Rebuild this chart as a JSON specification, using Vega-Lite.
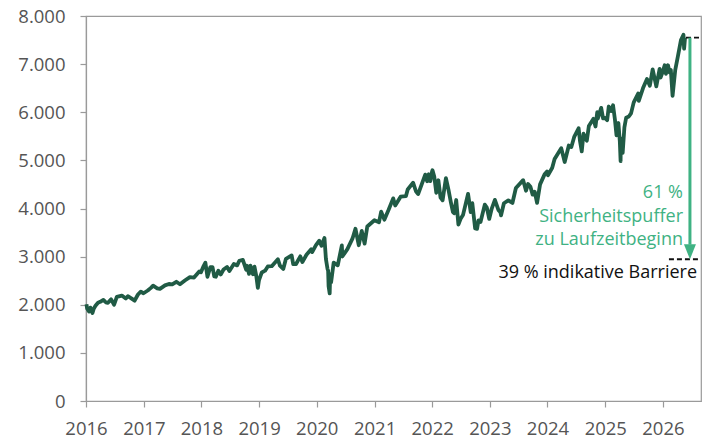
{
  "$schema": "https://vega.github.io/schema/vega-lite/v6.json",
  "width": 615,
  "height": 385,
  "autosize": {"type": "none"},
  "padding": {"left": 86, "top": 16, "right": 8, "bottom": 38},
  "background": "white",
  "config": {
    "view": {"stroke": "#9a9a9a", "strokeWidth": 1.2},
    "font": "Open Sans"
  },
  "datasets": {
    "spx": [
      {"date":"2016-01-04","value":2012},{"date":"2016-01-08","value":1922},{"date":"2016-01-20","value":1859},{"date":"2016-01-29","value":1940},{"date":"2016-02-11","value":1829},{"date":"2016-02-19","value":1917},{"date":"2016-03-01","value":1978},{"date":"2016-03-17","value":2040},{"date":"2016-03-31","value":2060},{"date":"2016-04-20","value":2102},{"date":"2016-05-05","value":2051},{"date":"2016-05-19","value":2040},{"date":"2016-06-08","value":2112},{"date":"2016-06-27","value":2000},{"date":"2016-07-14","value":2163},{"date":"2016-08-15","value":2190},{"date":"2016-09-09","value":2128},{"date":"2016-09-22","value":2177},{"date":"2016-10-14","value":2133},{"date":"2016-11-04","value":2085},{"date":"2016-11-25","value":2213},{"date":"2016-12-13","value":2272},{"date":"2016-12-30","value":2239},
      {"date":"2017-01-26","value":2296},{"date":"2017-02-15","value":2350},{"date":"2017-03-01","value":2396},{"date":"2017-03-27","value":2342},{"date":"2017-04-13","value":2329},{"date":"2017-05-15","value":2402},{"date":"2017-06-09","value":2431},{"date":"2017-06-30","value":2423},{"date":"2017-07-26","value":2477},{"date":"2017-08-18","value":2425},{"date":"2017-09-20","value":2508},{"date":"2017-10-20","value":2575},{"date":"2017-11-15","value":2565},{"date":"2017-12-18","value":2690},{"date":"2017-12-29","value":2674},
      {"date":"2018-01-12","value":2786},{"date":"2018-01-26","value":2873},{"date":"2018-02-08","value":2581},{"date":"2018-02-26","value":2780},{"date":"2018-03-12","value":2783},{"date":"2018-03-23","value":2588},{"date":"2018-04-02","value":2582},{"date":"2018-04-18","value":2708},{"date":"2018-05-03","value":2630},{"date":"2018-05-21","value":2733},{"date":"2018-06-12","value":2786},{"date":"2018-06-27","value":2700},{"date":"2018-07-25","value":2846},{"date":"2018-08-15","value":2818},{"date":"2018-08-29","value":2914},{"date":"2018-09-20","value":2931},{"date":"2018-10-11","value":2728},{"date":"2018-10-17","value":2810},{"date":"2018-10-29","value":2641},{"date":"2018-11-07","value":2813},{"date":"2018-11-23","value":2633},{"date":"2018-12-03","value":2790},{"date":"2018-12-14","value":2600},{"date":"2018-12-24","value":2351},{"date":"2018-12-31","value":2507},
      {"date":"2019-01-18","value":2671},{"date":"2019-02-08","value":2708},{"date":"2019-02-25","value":2796},{"date":"2019-03-22","value":2801},{"date":"2019-04-30","value":2946},{"date":"2019-05-13","value":2812},{"date":"2019-06-03","value":2744},{"date":"2019-06-20","value":2954},{"date":"2019-07-26","value":3026},{"date":"2019-08-05","value":2844},{"date":"2019-08-23","value":2847},{"date":"2019-09-19","value":3006},{"date":"2019-10-02","value":2887},{"date":"2019-10-28","value":3039},{"date":"2019-11-27","value":3153},{"date":"2019-12-03","value":3093},{"date":"2019-12-27","value":3240},
      {"date":"2020-01-17","value":3330},{"date":"2020-01-31","value":3226},{"date":"2020-02-19","value":3386},{"date":"2020-02-28","value":2954},{"date":"2020-03-09","value":2747},{"date":"2020-03-13","value":2711},{"date":"2020-03-16","value":2386},{"date":"2020-03-23","value":2237},{"date":"2020-03-26","value":2630},{"date":"2020-04-01","value":2470},{"date":"2020-04-17","value":2875},{"date":"2020-05-13","value":2820},{"date":"2020-06-08","value":3232},{"date":"2020-06-11","value":3002},{"date":"2020-07-13","value":3155},{"date":"2020-08-14","value":3373},{"date":"2020-09-02","value":3580},{"date":"2020-09-23","value":3237},{"date":"2020-10-12","value":3535},{"date":"2020-10-30","value":3270},{"date":"2020-11-16","value":3627},{"date":"2020-12-31","value":3756},
      {"date":"2021-01-29","value":3714},{"date":"2021-02-12","value":3934},{"date":"2021-03-04","value":3768},{"date":"2021-03-31","value":3973},{"date":"2021-04-29","value":4211},{"date":"2021-05-12","value":4063},{"date":"2021-06-15","value":4246},{"date":"2021-07-19","value":4258},{"date":"2021-07-30","value":4395},{"date":"2021-09-02","value":4537},{"date":"2021-09-20","value":4358},{"date":"2021-10-04","value":4300},{"date":"2021-11-18","value":4704},{"date":"2021-11-30","value":4567},{"date":"2021-12-10","value":4712},{"date":"2021-12-20","value":4568},{"date":"2021-12-31","value":4766},
      {"date":"2022-01-03","value":4796},{"date":"2022-01-14","value":4663},{"date":"2022-01-27","value":4326},{"date":"2022-02-09","value":4587},{"date":"2022-02-23","value":4225},{"date":"2022-03-08","value":4170},{"date":"2022-03-29","value":4632},{"date":"2022-04-14","value":4392},{"date":"2022-04-29","value":4132},{"date":"2022-05-12","value":3930},{"date":"2022-05-20","value":3901},{"date":"2022-06-02","value":4176},{"date":"2022-06-16","value":3667},{"date":"2022-06-30","value":3785},{"date":"2022-07-15","value":3863},{"date":"2022-08-16","value":4305},{"date":"2022-09-02","value":3924},{"date":"2022-09-12","value":4110},{"date":"2022-09-30","value":3586},{"date":"2022-10-12","value":3577},{"date":"2022-10-21","value":3752},{"date":"2022-11-03","value":3720},{"date":"2022-11-30","value":4080},{"date":"2022-12-13","value":4019},{"date":"2022-12-28","value":3783},
      {"date":"2023-01-13","value":3999},{"date":"2023-02-02","value":4180},{"date":"2023-02-24","value":3970},{"date":"2023-03-09","value":3919},{"date":"2023-03-13","value":3856},{"date":"2023-03-31","value":4109},{"date":"2023-04-28","value":4169},{"date":"2023-05-24","value":4115},{"date":"2023-06-15","value":4426},{"date":"2023-07-31","value":4589},{"date":"2023-08-18","value":4370},{"date":"2023-08-31","value":4508},{"date":"2023-09-15","value":4450},{"date":"2023-09-29","value":4288},{"date":"2023-10-12","value":4349},{"date":"2023-10-27","value":4117},{"date":"2023-11-15","value":4502},{"date":"2023-12-15","value":4719},{"date":"2023-12-29","value":4770},
      {"date":"2024-01-04","value":4688},{"date":"2024-01-31","value":4846},{"date":"2024-02-15","value":5030},{"date":"2024-03-28","value":5254},{"date":"2024-04-19","value":4967},{"date":"2024-05-15","value":5308},{"date":"2024-05-31","value":5278},{"date":"2024-06-18","value":5487},{"date":"2024-07-16","value":5667},{"date":"2024-07-25","value":5399},{"date":"2024-08-05","value":5186},{"date":"2024-08-16","value":5554},{"date":"2024-09-06","value":5408},{"date":"2024-09-19","value":5713},{"date":"2024-10-18","value":5864},{"date":"2024-10-31","value":5705},{"date":"2024-11-11","value":6001},{"date":"2024-11-15","value":5870},{"date":"2024-12-06","value":6090},{"date":"2024-12-18","value":5872},{"date":"2024-12-31","value":5882},
      {"date":"2025-01-13","value":5836},{"date":"2025-01-23","value":6119},{"date":"2025-02-07","value":6026},{"date":"2025-02-19","value":6144},{"date":"2025-03-03","value":5850},{"date":"2025-03-13","value":5522},{"date":"2025-03-25","value":5776},{"date":"2025-04-03","value":5396},{"date":"2025-04-08","value":4983},{"date":"2025-04-09","value":5457},{"date":"2025-04-21","value":5158},{"date":"2025-05-02","value":5687},{"date":"2025-05-13","value":5886},{"date":"2025-05-30","value":5912},{"date":"2025-06-13","value":5977},{"date":"2025-06-30","value":6205},{"date":"2025-07-28","value":6389},{"date":"2025-08-01","value":6238},{"date":"2025-08-28","value":6502},{"date":"2025-09-22","value":6693},{"date":"2025-10-10","value":6552},{"date":"2025-10-28","value":6890},{"date":"2025-11-20","value":6538},{"date":"2025-12-11","value":6901},{"date":"2025-12-17","value":6721},{"date":"2025-12-31","value":6845},
      {"date":"2026-01-12","value":6977},{"date":"2026-01-20","value":6800},{"date":"2026-02-02","value":6976},{"date":"2026-02-12","value":6830},{"date":"2026-02-20","value":6880},{"date":"2026-03-03","value":6340},{"date":"2026-03-20","value":6880},{"date":"2026-04-05","value":7150},{"date":"2026-04-25","value":7500},{"date":"2026-05-11","value":7610},{"date":"2026-05-15","value":7320},{"date":"2026-05-21","value":7550}
    ],
    "rules": [
      {"date":"2026-05-27","date2":"2026-08-27","value":7550},
      {"date":"2026-02-08","date2":"2026-08-27","value":2945}
    ],
    "arrow": [
      {"date":"2026-06-21","value":7550,"value2":3250}
    ],
    "head": [
      {"date":"2026-06-21","value":3100}
    ],
    "green": [
      {"date":"2026-05-08","value":4320,"label":"61 %"},
      {"date":"2026-05-08","value":3830,"label":"Sicherheitspuffer"},
      {"date":"2026-05-08","value":3340,"label":"zu Laufzeitbeginn"}
    ],
    "black": [
      {"date":"2026-08-05","value":2665,"label":"39 % indikative Barriere"}
    ]
  },
  "encoding": {
    "x": {
      "field": "date", "type": "temporal",
      "scale": {"type": "utc", "domain": [{"year":2016,"month":1,"date":1},{"year":2026,"month":8,"date":30}]},
      "axis": {
        "title": null, "format": "%Y", "tickCount": {"interval": "year", "step": 1},
        "grid": false, "domainColor": "#9a9a9a", "domainWidth": 1.2, "tickColor": "#9a9a9a", "tickSize": 6, "tickWidth": 1.2,
        "labelFont": "Open Sans", "labelFontSize": 18.5, "labelColor": "#555555", "labelPadding": 12,
        "labelFlush": false, "labelOverlap": false, "labelAlign": "center"
      }
    },
    "y": {
      "field": "value", "type": "quantitative",
      "scale": {"domain": [0, 8000], "nice": false},
      "axis": {
        "title": null, "values": [0,1000,2000,3000,4000,5000,6000,7000,8000],
        "labelExpr": "replace(format(datum.value, ','), ',', '.')",
        "grid": false, "domainColor": "#9a9a9a", "domainWidth": 1.2, "tickColor": "#9a9a9a", "tickSize": 6, "tickWidth": 1.2,
        "labelFont": "Open Sans", "labelFontSize": 18.5, "labelColor": "#555555", "labelPadding": 15
      }
    }
  },
  "layer": [
    {
      "data": {"name": "spx"},
      "mark": {"type": "line", "color": "#205b45", "strokeWidth": 3.8, "strokeJoin": "round"}
    },
    {
      "data": {"name": "rules"},
      "mark": {"type": "rule", "color": "#111111", "strokeWidth": 1.8, "strokeDash": [5, 3]},
      "encoding": {"x2": {"field": "date2"}}
    },
    {
      "data": {"name": "arrow"},
      "mark": {"type": "rule", "color": "#3fb283", "strokeWidth": 3},
      "encoding": {"y2": {"field": "value2"}}
    },
    {
      "data": {"name": "head"},
      "mark": {"type": "point", "shape": "M-0.8,-1L0.8,-1L0,1Z", "size": 225, "filled": true, "color": "#3fb283", "opacity": 1}
    },
    {
      "data": {"name": "green"},
      "mark": {"type": "text", "align": "right", "baseline": "middle", "font": "Open Sans", "fontSize": 18, "color": "#3fb283"},
      "encoding": {"text": {"field": "label"}}
    },
    {
      "data": {"name": "black"},
      "mark": {"type": "text", "align": "right", "baseline": "middle", "font": "Open Sans", "fontSize": 18, "color": "#111111"},
      "encoding": {"text": {"field": "label"}}
    }
  ]
}
